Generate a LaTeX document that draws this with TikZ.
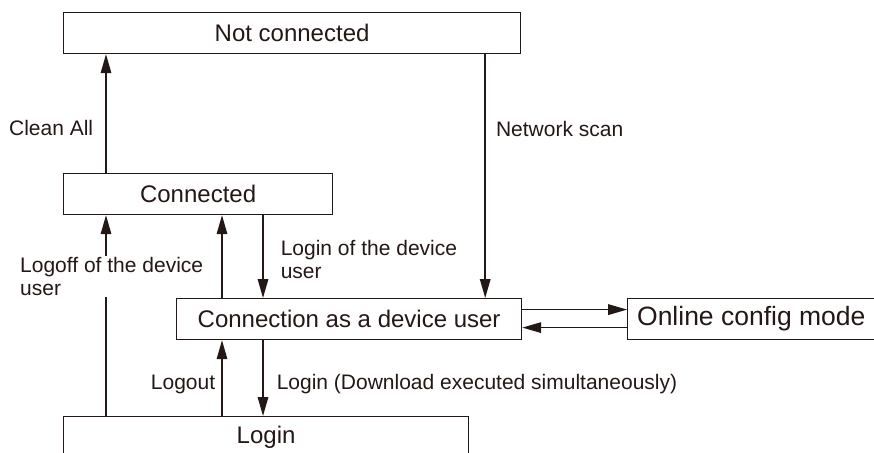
\documentclass[tikz,border=0pt]{standalone}
\usepackage{fontspec}
\setmainfont{Liberation Sans}
\usepackage{tikz}
\usetikzlibrary{arrows.meta,positioning}
\usepackage{xcolor}
\definecolor{LineDark}{RGB}{35,24,21}
\tikzset{
  state/.style={draw=LineDark, line width=1.2pt, fill=white, text=LineDark,
    minimum height=41pt, inner sep=0pt, font=\fontsize{24}{28}\selectfont},
  trans/.style={-{Triangle[length=19pt,width=10.5pt]}, line width=1.6pt, LineDark},
  tlabel/.style={inner sep=0pt, text=LineDark, align=left,
    font=\fontsize{21}{23}\selectfont}
}
\begin{document}
\begin{tikzpicture}[x=1pt, y=1pt]
      \useasboundingbox (0,0) rectangle (874,-452);
      \clip (0,0) rectangle (874,-452);
      \node[state, minimum width=457pt, anchor=north west] (notconn) at (63,-12) {Not connected};
      \node[state, minimum width=269pt, anchor=north west] (conn) at (63,-173) {Connected};
      \node[state, minimum width=345pt, anchor=north west] (devuser) at (176,-298) {Connection as a device user};
      \node[state, minimum width=247pt, right=105pt of devuser, font=\fontsize{26.5}{30}\selectfont] (online) {Online config mode};
      \node[state, minimum width=405pt, minimum height=42pt, anchor=north west] (login) at (63,-416) {Login};
      \draw[trans] ([xshift=43pt]conn.north west) -- ([xshift=43pt]notconn.south west)
        node[tlabel, pos=0.375, left=12pt] (cleanall) {Clean All};
      \draw[trans] ([xshift=-36pt]notconn.south east) -- ([xshift=-36pt]notconn.south east |- devuser.north)
        node[tlabel, pos=0.306, right=10pt] (netscan) {Network scan};
      \draw[trans] ([xshift=43pt]login.north west) -- ([xshift=43pt]conn.south west);
      \node[tlabel, fill=white, inner ysep=1pt, anchor=west] (logoff) at (20,-276.5) {Logoff of the device\\user};
      \draw[trans] ([xshift=46pt]devuser.north west) -- ([xshift=46pt]devuser.north west |- conn.south);
      \draw[trans] ([xshift=87pt]devuser.north west |- conn.south) -- ([xshift=87pt]devuser.north west)
        node[tlabel, pos=0.53, right=17pt] (loginuser) {Login of the device\\user};
      \draw[trans] ([xshift=46pt]devuser.south west |- login.north) -- ([xshift=46pt]devuser.south west)
        node[tlabel, pos=0.416, left=6pt] (logout) {Logout};
      \draw[trans] ([xshift=87pt]devuser.south west) -- ([xshift=87pt]devuser.south west |- login.north)
        node[tlabel, pos=0.584, right=13pt] (logindl) {Login (Download executed simultaneously)};
      \draw[trans] ([yshift=9.5pt]devuser.east) -- ([yshift=9.5pt]devuser.east -| online.west);
      \draw[trans] ([yshift=-8.5pt]devuser.east -| online.west) -- ([yshift=-8.5pt]devuser.east);
    \end{tikzpicture}
\end{document}
